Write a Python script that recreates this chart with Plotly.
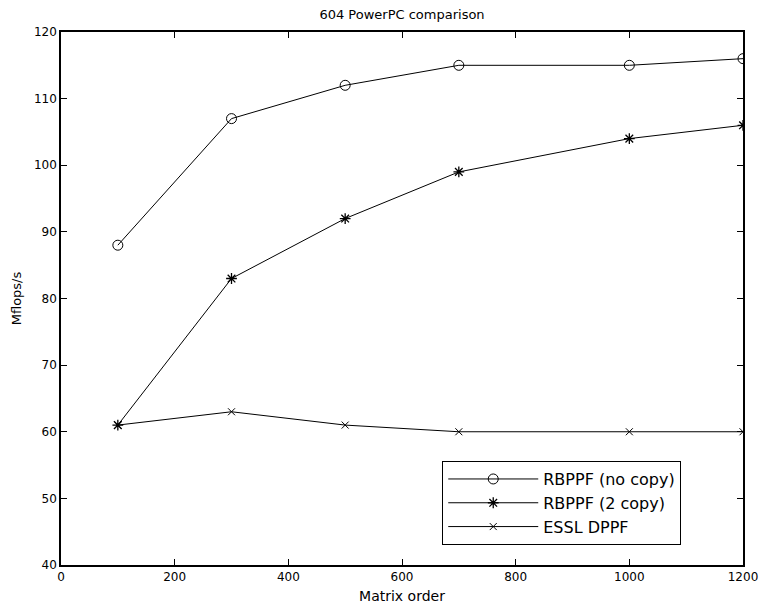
import plotly.graph_objects as go

matrix_order = [100, 300, 500, 700, 1000, 1200]
rbppf_no_copy = [88, 107, 112, 115, 115, 116]
rbppf_2_copy = [61, 83, 92, 99, 104, 106]
essl_dppf = [61, 63, 61, 60, 60, 60]

x_ticks = [0, 200, 400, 600, 800, 1000, 1200]
y_ticks = [40, 50, 60, 70, 80, 90, 100, 110, 120]

FONT = "DejaVu Sans, Verdana, sans-serif"

fig = go.Figure()
fig.add_trace(go.Scatter(x=matrix_order, y=rbppf_no_copy, mode="lines+markers",
                         name="RBPPF (no copy)",
                         line=dict(color="black", width=1),
                         marker=dict(symbol="circle-open", size=10, color="black", line=dict(width=1))))
fig.add_trace(go.Scatter(x=matrix_order, y=rbppf_2_copy, mode="lines+markers",
                         name="RBPPF (2 copy)",
                         line=dict(color="black", width=1),
                         marker=dict(symbol="asterisk-open", size=9, color="black", line=dict(width=1.3))))
fig.add_trace(go.Scatter(x=matrix_order, y=essl_dppf, mode="lines+markers",
                         name="ESSL DPPF",
                         line=dict(color="black", width=1),
                         marker=dict(symbol="x-thin-open", size=7, color="black", line=dict(width=1))))

axis_common = dict(showgrid=False, zeroline=False, showline=True, linecolor="black", linewidth=1.5,
                   mirror="allticks", ticks="inside", ticklen=6, tickcolor="black", tickwidth=1,
                   automargin=False,
                   tickfont=dict(family=FONT, size=12, color="black"))

fig.update_xaxes(range=[0, 1200], tickvals=x_ticks, ticktext=[str(v) for v in x_ticks],
                 title=dict(text="Matrix order", standoff=8,
                            font=dict(family=FONT, size=14, color="black")),
                 **axis_common)
fig.update_yaxes(range=[40, 120], tickvals=y_ticks, ticktext=[str(v) for v in y_ticks],
                 title=dict(text="Mflops/s", standoff=9,
                            font=dict(family=FONT, size=13, color="black")),
                 **axis_common)

fig.update_layout(
    width=760, height=605,
    margin=dict(l=61, r=17, t=32, b=40, autoexpand=False),
    plot_bgcolor="white", paper_bgcolor="white",
    title=dict(text="604 PowerPC comparison", x=0.5, xanchor="center", y=1 - 14 / 605, yanchor="middle",
               xref="paper", automargin=False,
               font=dict(family=FONT, size=13, color="black")),
    showlegend=True,
    legend=dict(x=0.559, y=0.195, xanchor="left", yanchor="top",
                bordercolor="black", borderwidth=1, bgcolor="white",
                itemwidth=90, tracegroupgap=0,
                font=dict(family=FONT, size=16, color="black")),
)

fig.write_html("out.html", config={"displayModeBar": False},
               post_script="document.body.style.margin='0';")
